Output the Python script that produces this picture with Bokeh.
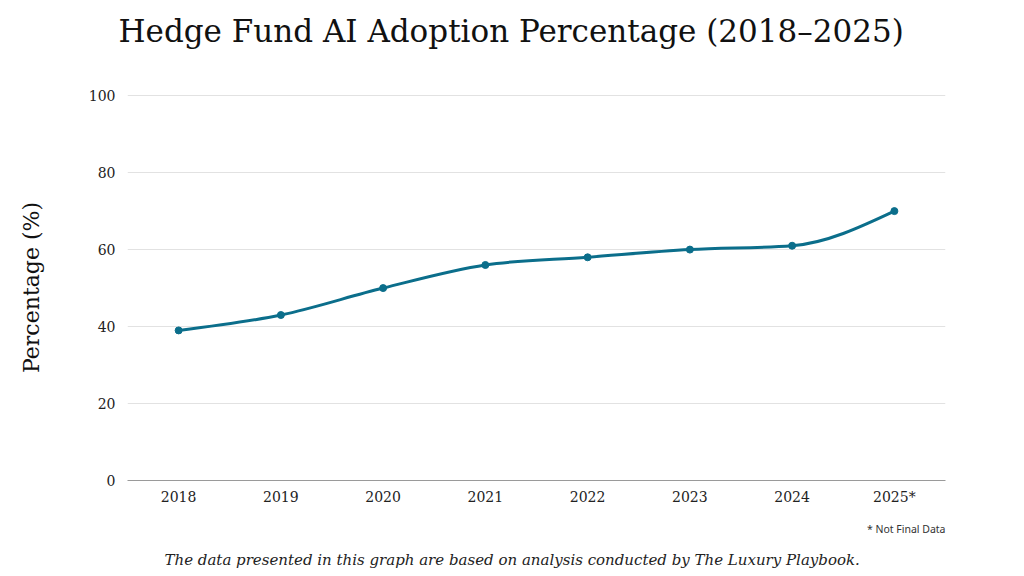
from bokeh.plotting import figure
from bokeh.models import Range1d, FixedTicker, Title
from bokeh.embed import file_html
from bokeh.resources import INLINE

years = [2018, 2019, 2020, 2021, 2022, 2023, 2024, 2025]
adoption = [39, 43, 50, 56, 58, 60, 61, 70]
year_labels = ["2018", "2019", "2020", "2021", "2022", "2023", "2024", "2025*"]
y_ticks = [0, 20, 40, 60, 80, 100]

title_text = "Hedge Fund AI Adoption Percentage (2018\u20132025)"
y_label = "Percentage (%)"
note_text = "* Not Final Data"
source_text = "The data presented in this graph are based on analysis conducted by The Luxury Playbook."

SERIF = "DejaVu Serif"
LINE_COLOR = "#0b6e8b"

W, H = 1008, 576
ML, MR, MT, MB = 127, 63, 94, 96

p = figure(width=W, height=H, output_backend="svg", toolbar_location=None,
           x_range=Range1d(2017.5, 2025.5), y_range=Range1d(0, 100.3),
           min_border_left=ML, min_border_right=MR, min_border_top=MT, min_border_bottom=MB)
p.outline_line_color = None
p.background_fill_color = "white"
p.border_fill_color = "white"

# monotone-x cubic (d3 curveMonotoneX) through the data points, drawn as bezier segments
def sign(v):
    return (v > 0) - (v < 0)

n = len(years)
t = [0.0] * n
for i in range(1, n - 1):
    h0 = years[i] - years[i - 1]
    h1 = years[i + 1] - years[i]
    s0 = (adoption[i] - adoption[i - 1]) / h0
    s1 = (adoption[i + 1] - adoption[i]) / h1
    pp = (s0 * h1 + s1 * h0) / (h0 + h1)
    t[i] = (sign(s0) + sign(s1)) * min(abs(s0), abs(s1), 0.5 * abs(pp))
h = years[1] - years[0]
t[0] = (3 * (adoption[1] - adoption[0]) / h - t[1]) / 2
h = years[-1] - years[-2]
t[-1] = (3 * (adoption[-1] - adoption[-2]) / h - t[-2]) / 2

x0, y0, x1, y1, cx0, cy0, cx1, cy1 = [], [], [], [], [], [], [], []
for i in range(n - 1):
    dx = (years[i + 1] - years[i]) / 3
    x0.append(years[i]); y0.append(adoption[i])
    x1.append(years[i + 1]); y1.append(adoption[i + 1])
    cx0.append(years[i] + dx); cy0.append(adoption[i] + dx * t[i])
    cx1.append(years[i + 1] - dx); cy1.append(adoption[i + 1] - dx * t[i + 1])

p.bezier(x0=x0, y0=y0, x1=x1, y1=y1, cx0=cx0, cy0=cy0, cx1=cx1, cy1=cy1,
         line_color=LINE_COLOR, line_width=3)
p.scatter(years, adoption, size=7, fill_color=LINE_COLOR, line_color=LINE_COLOR)

# axes
p.xaxis.ticker = FixedTicker(ticks=years)
p.xaxis.major_label_overrides = {y: l for y, l in zip(years, year_labels)}
p.yaxis.ticker = FixedTicker(ticks=y_ticks)
for ax in (p.xaxis, p.yaxis):
    ax.major_tick_line_color = None
    ax.minor_tick_line_color = None
    ax.major_label_text_font = SERIF
    ax.major_label_text_font_size = "14px"
    ax.major_label_text_color = "#222222"
p.yaxis.axis_line_color = None
p.xaxis.axis_line_color = "#9a9a9a"
p.xaxis.axis_line_width = 1
p.xaxis.major_label_standoff = 2
p.yaxis.major_label_standoff = 6
p.yaxis.axis_label = y_label
p.yaxis.axis_label_text_font = SERIF
p.yaxis.axis_label_text_font_size = "22px"
p.yaxis.axis_label_text_font_style = "normal"
p.yaxis.axis_label_text_color = "#111111"
p.yaxis.axis_label_standoff = 42

p.xgrid.grid_line_color = None
p.ygrid.grid_line_color = "#e2e2e2"
p.ygrid.grid_line_width = 1

# main title (outermost panel)
p.title.text = title_text
p.title.text_font = SERIF
p.title.text_font_size = "31px"
p.title.text_font_style = "normal"
p.title.text_color = "#111111"
p.title.align = "left"
p.title.offset = -9
p.title.standoff = 18

# blank spacer panel between the title and the frame
p.add_layout(Title(text=" ", text_font_size="10px", standoff=24), "above")

p.add_layout(Title(text=note_text, text_font="Noto Sans", text_font_size="10.5px",
                   text_font_style="normal", text_color="#333333", align="right",
                   standoff=25), "below")
p.add_layout(Title(text=source_text, text_font=SERIF, text_font_size="15px",
                   text_font_style="italic", text_color="#222222", align="left",
                   offset=37, standoff=0), "below")

open("out.html", "w").write(file_html(p, INLINE))
